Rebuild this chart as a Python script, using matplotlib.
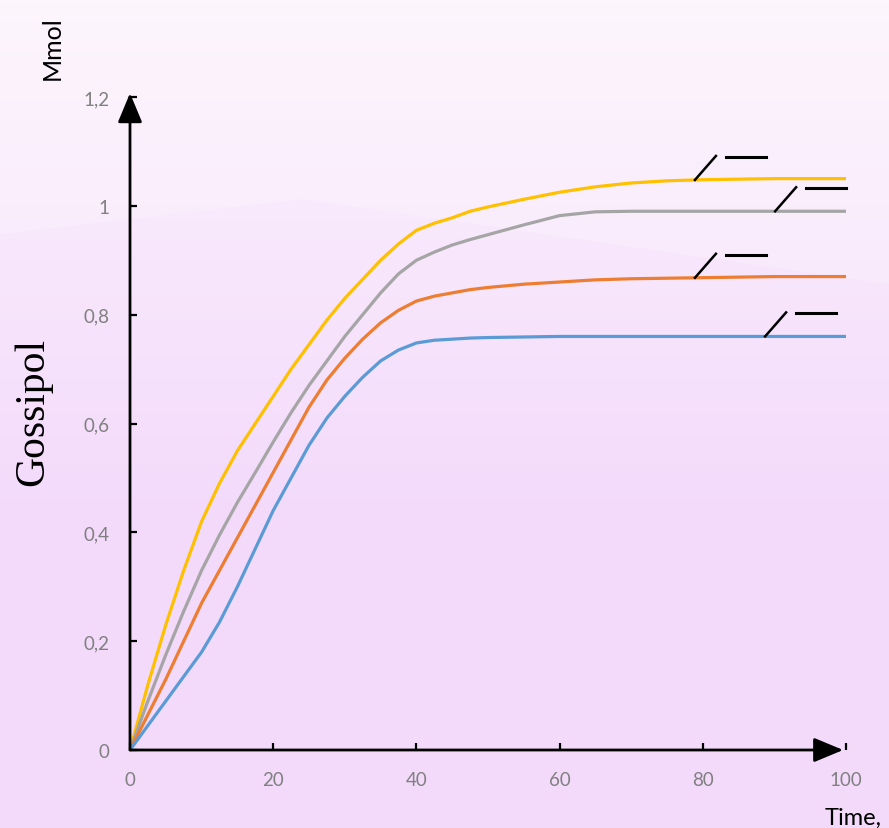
import numpy as np
import matplotlib
matplotlib.use('Agg')
import matplotlib.pyplot as plt
from matplotlib.transforms import offset_copy
from matplotlib.patches import Polygon

# values
time = [0, 2.5, 5, 7.5, 10, 12.5, 15, 17.5, 20, 22.5, 25, 27.5, 30, 32.5, 35, 37.5, 40,
        42.5, 45, 47.5, 50, 55, 60, 65, 70, 75, 80, 90, 100]
yellow = [0, 0.12, 0.23, 0.33, 0.42, 0.49, 0.55, 0.60, 0.65, 0.70, 0.745, 0.79, 0.83, 0.865, 0.90, 0.93, 0.955,
          0.968, 0.978, 0.99, 0.998, 1.012, 1.025, 1.035, 1.042, 1.046, 1.048, 1.05, 1.05]
gray = [0, 0.09, 0.175, 0.255, 0.33, 0.395, 0.455, 0.51, 0.566, 0.62, 0.67, 0.715, 0.76, 0.80, 0.84, 0.875, 0.90,
        0.915, 0.928, 0.938, 0.947, 0.965, 0.982, 0.989, 0.99, 0.99, 0.99, 0.99, 0.99]
orange = [0, 0.065, 0.13, 0.20, 0.27, 0.33, 0.39, 0.45, 0.51, 0.57, 0.63, 0.68, 0.72, 0.755, 0.785, 0.808, 0.825,
          0.834, 0.84, 0.846, 0.85, 0.856, 0.86, 0.864, 0.866, 0.867, 0.868, 0.87, 0.87]
blue = [0, 0.045, 0.09, 0.135, 0.18, 0.235, 0.30, 0.37, 0.44, 0.50, 0.56, 0.61, 0.65, 0.685, 0.715, 0.735, 0.748,
        0.753, 0.755, 0.757, 0.758, 0.759, 0.76, 0.76, 0.76, 0.76, 0.76, 0.76, 0.76]
series = [('#FFC000', yellow), ('#A5A5A5', gray), ('#ED7D31', orange), ('#5B9BD5', blue)]
label_x = [78.9, 90.1, 78.9, 88.7]  # where the empty data-label leaders start
xticks = [0, 20, 40, 60, 80, 100]
yticks = [0, 0.2, 0.4, 0.6, 0.8, 1.0, 1.2]
ytick_labels = ['0', '0,2', '0,4', '0,6', '0,8', '1', '1,2']

plt.rcParams['font.family'] = ['Lato', 'DejaVu Sans']
fig = plt.figure(figsize=(8.89, 8.29), dpi=100)

# background gradient
bg = fig.add_axes([0, 0, 1, 1], zorder=-10)
bg.set_axis_off()
g = np.linspace(0, 1, 256)[:, None]
top = np.array([253, 244, 253]) / 255
bot = np.array([243, 218, 251]) / 255
img = top + (bot - top) * np.clip(g * 1.6, 0, 1)[:, :, None]
bg.imshow(img, aspect='auto', extent=[0, 1, 0, 1])
bg.add_patch(Polygon([(0, 1), (1, 1), (1, 1 - 285 / 829), (0.34, 1 - 200 / 829), (0, 1 - 235 / 829)],
                     closed=True, fc='white', alpha=0.2, lw=0))
bg.set_xlim(0, 1); bg.set_ylim(0, 1)

ax = fig.add_axes([130 / 889, 1 - 751 / 829, 716 / 889, 653 / 829])
ax.patch.set_alpha(0)
ax.set_xlim(0, 100)
ax.set_ylim(0, 1.2)
for c, v in series:
    ax.plot(time, v, color=c, lw=2.3, solid_joinstyle='round', zorder=3)

# empty data-label leader lines: slash from the curve, then a short dash
for (c, v), lx in zip(series, label_x):
    ly = np.interp(lx, time, v)
    tr = offset_copy(ax.transData, fig=fig, x=0, y=0, units='dots')
    slash_end = offset_copy(ax.transData, fig=fig, x=21, y=24, units='dots')
    a = tr.transform((lx, ly)); b = slash_end.transform((lx, ly))
    fig.add_artist(plt.Line2D([a[0] / fig.bbox.width, b[0] / fig.bbox.width],
                              [a[1] / fig.bbox.height, b[1] / fig.bbox.height],
                              transform=fig.transFigure, color='black', lw=1.8, zorder=4))
    tr3 = offset_copy(ax.transData, fig=fig, x=31, y=23, units='dots')
    ax.plot([lx, lx + 5.6], [ly, ly], transform=tr3, color='black', lw=2.2, zorder=4, clip_on=False)

for s in ax.spines.values():
    s.set_visible(False)
arrow = dict(arrowstyle='-|>,head_length=0.6,head_width=0.25', mutation_scale=30, lw=2,
             color='black', shrinkA=0, shrinkB=0)
ax.annotate('', xy=(0, 1.207), xytext=(0, 0), arrowprops=arrow, annotation_clip=False)
ax.annotate('', xy=(99.6, 0), xytext=(0, 0), arrowprops=arrow, annotation_clip=False)

ax.set_xticks(xticks)
ax.set_yticks(yticks)
ax.set_yticklabels(ytick_labels)
ax.tick_params(direction='in', length=5, width=1.6, color='black', labelcolor='#808080', labelsize=13.5)
ax.tick_params(axis='x', pad=15)
ax.tick_params(axis='y', pad=15)

fig.text(33 / 889, 1 - 412 / 829, 'Gossipol', rotation=90, ha='center', va='center',
         fontsize=30, family=['Liberation Serif', 'DejaVu Serif'], color='black')
fig.text(52 / 889, 1 - 48 / 829, 'Mmol', rotation=90, ha='center', va='center', fontsize=18, color='black')
fig.text(825 / 889, 1 - 818 / 829, 'Time,', ha='left', va='center', fontsize=17, color='black')

fig.savefig('out.png', dpi=100)
